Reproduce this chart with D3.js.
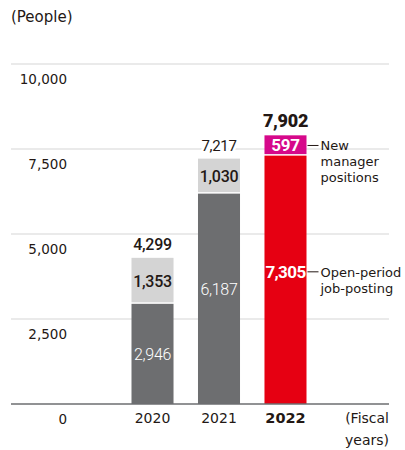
<!DOCTYPE html>
<html>
<head>
<meta charset="utf-8">
<script src="https://cdn.jsdelivr.net/npm/d3@7"></script>
<style>
  html, body { margin: 0; padding: 0; background: #fff; }
  svg { display: block; font-family: "DejaVu Sans", "Noto Sans", sans-serif; }
</style>
</head>
<body>
<svg id="chart" width="405" height="450"></svg>
<script>
// Fiscal years and headcounts per recruitment channel
const years = ["2020", "2021", "2022"];
const openPosting = [2946, 6187, 7305];
const newManager = [1353, 1030, 597];
const totals = [4299, 7217, 7902];
const yTicks = [0, 2500, 5000, 7500, 10000];

const svg = d3.select("#chart");
const ink = "#231815";
const fmt = d3.format(",");
const numFont = "Roboto, 'Liberation Sans', sans-serif";

const y = d3.scaleLinear().domain([0, 10000]).range([404, 64]);
const x = d3.scaleBand().domain(years).range([131.5, 306.5]).paddingInner(0.368).paddingOuter(0);
const cx = d => x(d) + x.bandwidth() / 2;

// Horizontal grid
svg.append("g").selectAll("line").data(yTicks.filter(d => d > 0)).join("line")
  .attr("x1", 11).attr("x2", 389)
  .attr("y1", d => y(d)).attr("y2", d => y(d))
  .attr("stroke", "#e3e3e3").attr("stroke-width", 1.5);

// Tick labels sit just below each grid line
const yAxis = d3.axisLeft(y).tickValues(yTicks).tickSize(0).tickFormat(fmt);
const ya = svg.append("g").attr("transform", "translate(67,0)").call(yAxis);
ya.select(".domain").remove();
ya.selectAll("text").attr("dy", 0).attr("x", 0).attr("y", 19)
  .attr("font-size", 13.5).attr("fill", ink)
  .attr("font-family", "'DejaVu Sans', sans-serif");

const colsLow = ["#6d6e70", "#6d6e70", "#e60012"];
const colsHigh = ["#d4d4d4", "#d4d4d4", "#d6088a"];

// Lower segments
svg.append("g").selectAll("rect").data(years).join("rect")
  .attr("x", d => x(d)).attr("width", x.bandwidth())
  .attr("y", (d, i) => y(openPosting[i]))
  .attr("height", (d, i) => y(0) - y(openPosting[i]))
  .attr("fill", (d, i) => colsLow[i]);

// Upper segments, with a thin white seam
svg.append("g").selectAll("rect").data(years).join("rect")
  .attr("x", d => x(d)).attr("width", x.bandwidth())
  .attr("y", (d, i) => y(totals[i]))
  .attr("height", (d, i) => y(openPosting[i]) - y(totals[i]) - 1.5)
  .attr("fill", (d, i) => colsHigh[i]);

// Baseline
svg.append("line").attr("x1", 11).attr("x2", 389)
  .attr("y1", y(0)).attr("y2", y(0))
  .attr("stroke", "#6d6e70").attr("stroke-width", 1.5);

// Year labels
const xa = svg.append("g").attr("transform", `translate(0,${y(0)})`)
  .call(d3.axisBottom(x).tickSize(0));
xa.select(".domain").remove();
xa.selectAll("text").attr("dy", 0).attr("y", 19).attr("fill", ink)
  .attr("font-family", "'DejaVu Sans', sans-serif")
  .attr("font-weight", d => d === "2022" ? 700 : 400)
  .attr("font-size", d => d === "2022" ? 14.5 : 14);

// Totals above each bar (white halo breaks the grid line behind them)
const totalStyle = [
  { w: 500, s: 16 },
  { w: 400, s: 15 },
  { w: 900, s: 18 }
];
svg.append("g").selectAll("text").data(years).join("text")
  .attr("x", cx).attr("y", (d, i) => y(totals[i]) - 8)
  .attr("text-anchor", "middle").attr("fill", ink)
  .attr("font-family", numFont)
  .attr("font-weight", (d, i) => totalStyle[i].w)
  .attr("font-size", (d, i) => totalStyle[i].s)
  .attr("letter-spacing", -0.3)
  .attr("paint-order", "stroke").attr("stroke", "#fff").attr("stroke-width", 5)
  .text((d, i) => fmt(totals[i]));

// Upper segment values
const upStyle = [
  { fill: ink, w: 500, s: 16 },
  { fill: ink, w: 500, s: 16 },
  { fill: "#fff", w: 700, s: 17 }
];
svg.append("g").selectAll("text").data(years).join("text")
  .attr("x", cx).attr("y", (d, i) => (y(totals[i]) + y(openPosting[i])) / 2 + 6)
  .attr("text-anchor", "middle")
  .attr("font-family", numFont)
  .attr("fill", (d, i) => upStyle[i].fill)
  .attr("font-weight", (d, i) => upStyle[i].w)
  .attr("font-size", (d, i) => upStyle[i].s)
  .attr("letter-spacing", -0.3)
  .text((d, i) => fmt(newManager[i]));

// Lower segment values
const lowStyle = [
  { w: 300, s: 16, shift: 0 },
  { w: 300, s: 16, shift: -10 },
  { w: 700, s: 17, shift: -8 }
];
svg.append("g").selectAll("text").data(years).join("text")
  .attr("x", cx)
  .attr("y", (d, i) => (y(0) + y(openPosting[i])) / 2 + 6 + lowStyle[i].shift)
  .attr("text-anchor", "middle").attr("fill", "#fff")
  .attr("font-family", numFont)
  .attr("font-weight", (d, i) => lowStyle[i].w)
  .attr("font-size", (d, i) => lowStyle[i].s)
  .attr("letter-spacing", (d, i) => i === 2 ? -0.6 : -0.3)
  .text((d, i) => fmt(openPosting[i]));

// Series annotations beside the 2022 bar
const right = x("2022") + x.bandwidth();
const notes = [
  { yy: (y(totals[2]) + y(openPosting[2])) / 2, lines: ["New", "manager", "positions"] },
  { yy: (y(0) + y(openPosting[2])) / 2 + lowStyle[2].shift, lines: ["Open-period", "job-posting"] }
];
notes.forEach(n => {
  svg.append("line").attr("x1", right + 1).attr("x2", right + 12)
    .attr("y1", n.yy).attr("y2", n.yy).attr("stroke", ink).attr("stroke-width", 1);
  const t = svg.append("text").attr("x", right + 14).attr("y", n.yy + 5)
    .attr("font-size", 13).attr("fill", ink);
  n.lines.forEach((l, i) => t.append("tspan").attr("x", right + 14).attr("dy", i ? 16 : 0).text(l));
});

// Axis titles
svg.append("text").attr("x", 11).attr("y", 22).attr("font-size", 15).attr("fill", ink).text("(People)");
const ft = svg.append("text").attr("x", 389).attr("y", 423).attr("text-anchor", "end")
  .attr("font-size", 14).attr("fill", ink);
ft.append("tspan").attr("x", 389).text("(Fiscal");
ft.append("tspan").attr("x", 389).attr("dy", 22).text("years)");
</script>
</body>
</html>
